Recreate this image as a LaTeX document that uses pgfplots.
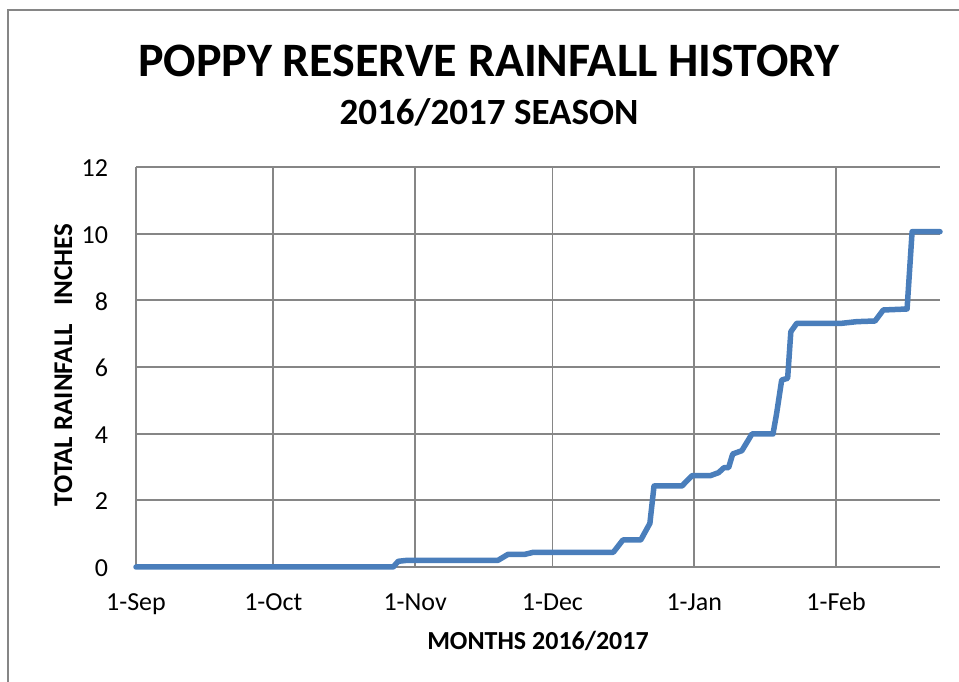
\documentclass[border=0pt]{standalone}
\usepackage{pgfplots}
\pgfplotsset{compat=1.18}
\usepackage{fontspec}
\setmainfont{Carlito}
\definecolor{linecol}{HTML}{4A7EBB}
\definecolor{gridcol}{HTML}{868686}
\begin{document}
\begin{tikzpicture}[x=1bp,y=1bp]
\path[use as bounding box] (0,0) rectangle (959,682);
\begin{axis}[
  at={(136bp,115bp)}, anchor=south west,
  scale only axis, width=804bp, height=400bp,
  xmin=0, xmax=175.7, ymin=0, ymax=12,
  axis x line*=bottom, axis y line*=left,
  axis line style={-, draw=gridcol, line width=1.7bp},
  xtick={0,30,61,91,122,153},
  xticklabels={1-Sep,1-Oct,1-Nov,1-Dec,1-Jan,1-Feb},
  ytick={0,2,4,6,8,10,12},
  major tick length=0pt,
  xmajorgrids, ymajorgrids,
  grid style={draw=gridcol, line width=1.7bp},
  tick label style={font=\fontsize{26bp}{30bp}\selectfont, inner sep=0pt, outer sep=0pt},
  xticklabel style={anchor=base, yshift=-44bp},
  yticklabel style={anchor=east, xshift=-28bp, yshift=-1bp},
  /pgf/number format/assume math mode=true,
  clip=false,
]
\addplot[linecol, line width=5.5bp, line join=round, line cap=round] coordinates {
(0,0) (56.2,0) (57.3,0.17) (59.2,0.2) (79.1,0.2) (81.3,0.38) (85.0,0.38) (86.8,0.44)
(104.3,0.44) (106.4,0.81) (110.3,0.81) (112.3,1.31) (113.2,2.43) (119.3,2.43)
(121.5,2.74) (125.5,2.74) (127.3,2.83) (128.5,2.98) (129.5,2.98) (130.4,3.39)
(132.4,3.49) (134.6,3.99) (139.2,3.99) (140.0,4.61) (141.1,5.61) (142.4,5.66)
(143.1,7.06) (144.4,7.31) (154.2,7.31) (157.5,7.36) (161.5,7.38) (163.3,7.71)
(168.5,7.74) (169.6,10.06) (175.7,10.06)
};
\end{axis}
\draw[gridcol, line width=1.6bp] (8,0) -- (8,672) -- (959,672);
\node[anchor=base, inner sep=0pt] at (489,605) {\fontsize{48bp}{52bp}\selectfont\bfseries POPPY RESERVE RAINFALL HISTORY};
\node[anchor=base, inner sep=0pt] at (489,557) {\fontsize{37bp}{40bp}\selectfont\bfseries 2016/2017 SEASON};
\node[anchor=base, inner sep=0pt] at (538,32) {\fontsize{26bp}{30bp}\selectfont\bfseries MONTHS 2016/2017};
\node[anchor=base, inner sep=0pt, rotate=90] at (72,317) {\fontsize{27bp}{30bp}\selectfont\bfseries TOTAL RAINFALL\ \ \ INCHES};
\end{tikzpicture}
\end{document}
